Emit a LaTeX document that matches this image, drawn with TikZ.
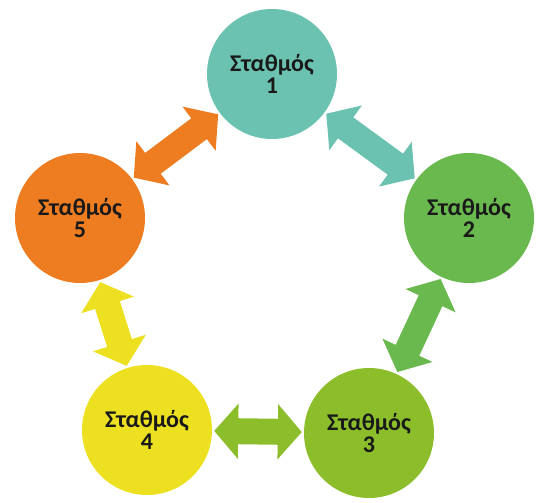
\documentclass[tikz,border=0pt]{standalone}
\usepackage{fontspec}
\setmainfont{Carlito}
\usetikzlibrary{arrows.meta}

\definecolor{stteal}{RGB}{108,194,176}
\definecolor{stgreen}{RGB}{106,185,78}
\definecolor{stlime}{RGB}{139,190,42}
\definecolor{styellow}{RGB}{236,224,32}
\definecolor{storange}{RGB}{238,125,34}

\begin{document}
\begin{tikzpicture}[x=1pt,y=-1pt,
    station/.style={circle,minimum size=130pt,inner sep=0pt,align=center,
      font=\bfseries\fontsize{24}{22}\selectfont,text=black!90},
    link/.style={line width=26pt,shorten <=2pt,shorten >=2pt,
      {Triangle[length=24pt,width=54pt]}-{Triangle[length=24pt,width=54pt]}}]
  \useasboundingbox (0,0) rectangle (536,503);

  \foreach \n/\x/\y/\c in {1/272/74/stteal,2/469/218/stgreen,3/369/433/stlime,
                           4/147/430/styellow,5/80/218/storange}{
    \node[station,fill=\c] (s\n) at (\x,\y) {Σταθμός\\\n};
  }

  \foreach \a/\b/\c in {1/2/stteal,2/3/stgreen,3/4/stlime,4/5/styellow,5/1/storange}{
    \draw[link,\c] (s\a) -- (s\b);
  }
\end{tikzpicture}
\end{document}
